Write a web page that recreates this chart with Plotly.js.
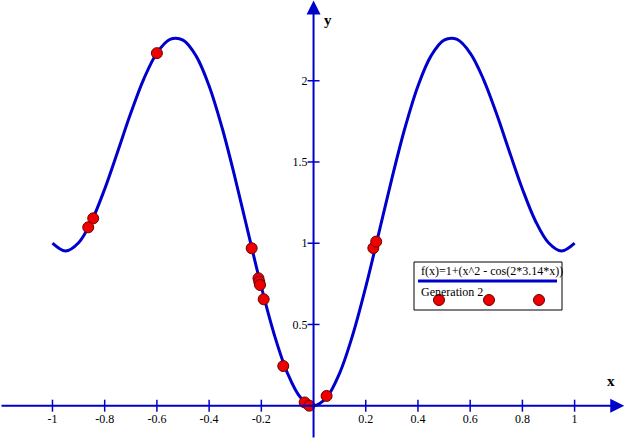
<!DOCTYPE html>
<html>
<head>
<meta charset="utf-8">
<script src="https://cdn.plot.ly/plotly-3.0.1.min.js"></script>
<style>html,body{margin:0;padding:0;background:#fff;}#chart{width:625px;height:439px;}</style>
</head>
<body>
<div id="chart"></div>
<script>
// Curve f(x)=1+(x^2 - cos(2*3.14*x))
const curveX = [-1,-0.95,-0.9,-0.85,-0.8,-0.75,-0.7,-0.65,-0.6,-0.55,-0.5,-0.45,-0.4,-0.35,-0.3,-0.25,-0.2,-0.15,-0.1,-0.05,0,
                0.05,0.1,0.15,0.2,0.25,0.3,0.35,0.4,0.45,0.5,0.55,0.6,0.65,0.7,0.75,0.8,0.85,0.9,0.95,1];
const curveY = [1.0,0.952,1.003,1.137,1.334,1.565,1.801,2.012,2.170,2.254,2.25,2.153,1.968,1.709,1.398,1.062,0.731,0.435,0.201,0.051,0,
                0.051,0.201,0.435,0.731,1.062,1.398,1.709,1.968,2.153,2.25,2.254,2.170,2.012,1.801,1.565,1.334,1.137,1.003,0.952,1.0];
// Generation 2 points
const genX = [-0.6,-0.844,-0.863,-0.237,-0.211,-0.208,-0.205,-0.191,-0.116,-0.034,-0.016,0.05,0.229,0.24];
const genY = [2.17,1.153,1.098,0.969,0.784,0.763,0.743,0.655,0.244,0.02,0.0,0.06,0.97,1.01];
// Tick labels
const xTicks = [-1,-0.8,-0.6,-0.4,-0.2,0.2,0.4,0.6,0.8,1];
const xTickText = ['-1','-0.8','-0.6','-0.4','-0.2','0.2','0.4','0.6','0.8','1'];
const yTicks = [0.5,1,1.5,2];
const yTickText = ['0.5','1','1.5','2'];
const curveName = 'f(x)=1+(x^2 - cos(2*3.14*x))';
const pointsName = 'Generation 2';

const W = 625, H = 439;
const xmin = -1.201, xmax = 1.193, ymin = -0.205, ymax = 2.497;
const blue = '#0000cc', red = '#ee0000';
const serif = 'Liberation Serif, Times New Roman, serif';
const px = v => v / W, py = v => 1 - v / H;

const traces = [
  {x: curveX, y: curveY, mode: 'lines', line: {color: blue, width: 3, shape: 'spline', smoothing: 1}, name: curveName, hoverinfo: 'skip'},
  {x: genX, y: genY, mode: 'markers', marker: {color: red, size: 11, line: {color: '#6a0000', width: 1}}, name: pointsName}
];

const shapes = [];
xTicks.forEach(v => shapes.push({type: 'line', xref: 'x', yref: 'y', ysizemode: 'pixel', yanchor: 0, x0: v, x1: v, y0: -6, y1: 6, line: {color: blue, width: 1.5}}));
yTicks.forEach(v => shapes.push({type: 'line', xref: 'x', yref: 'y', xsizemode: 'pixel', xanchor: 0, y0: v, y1: v, x0: -6, x1: 6, line: {color: blue, width: 1.5}}));
// legend box
shapes.push({type: 'rect', xref: 'paper', yref: 'paper', x0: px(414), x1: px(562), y0: py(310), y1: py(262), line: {color: '#000', width: 1}, fillcolor: '#fff'});
shapes.push({type: 'line', xref: 'paper', yref: 'paper', x0: px(418), x1: px(557), y0: py(281), y1: py(281), line: {color: blue, width: 3}});
[439, 489, 539].forEach(c => shapes.push({type: 'circle', xref: 'paper', yref: 'paper', x0: px(c - 5.5), x1: px(c + 5.5), y0: py(300 + 5.5), y1: py(300 - 5.5), fillcolor: red, line: {color: '#6a0000', width: 1}}));

const annotations = [
  {x: 1.19, y: 0, ax: xmin, ay: 0, xref: 'x', yref: 'y', axref: 'x', ayref: 'y', text: '', showarrow: true, arrowhead: 2, arrowsize: 1.4, arrowwidth: 2, arrowcolor: blue, standoff: 0, startstandoff: 0},
  {x: 0, y: 2.494, ax: 0, ay: ymin, xref: 'x', yref: 'y', axref: 'x', ayref: 'y', text: '', showarrow: true, arrowhead: 2, arrowsize: 1.4, arrowwidth: 2, arrowcolor: blue, standoff: 0, startstandoff: 0},
  {x: px(617), y: py(391), xref: 'paper', yref: 'paper', text: '<b>x</b>', showarrow: false, font: {family: serif, size: 15, color: '#000'}},
  {x: px(328), y: py(10), xref: 'paper', yref: 'paper', text: '<b>y</b>', showarrow: false, font: {family: serif, size: 15, color: '#000'}},
  {x: px(419), y: py(271), xref: 'paper', yref: 'paper', xanchor: 'left', text: curveName, showarrow: false, font: {family: serif, size: 12, color: '#000'}},
  {x: px(419), y: py(292), xref: 'paper', yref: 'paper', xanchor: 'left', text: pointsName, showarrow: false, font: {family: serif, size: 12, color: '#000'}}
];

const layout = {
  width: W, height: H,
  margin: {l: 0, r: 0, t: 0, b: 0, pad: 0},
  paper_bgcolor: '#fff', plot_bgcolor: '#fff',
  showlegend: false,
  font: {family: serif, size: 12, color: '#000'},
  xaxis: {range: [xmin, xmax], showgrid: false, zeroline: false, showline: false, ticks: '',
          tickvals: xTicks, ticktext: xTickText, anchor: 'free', position: (0 - ymin) / (ymax - ymin),
          ticklabelstandoff: 4, tickfont: {family: serif, size: 12, color: '#000'}},
  yaxis: {range: [ymin, ymax], showgrid: false, zeroline: false, showline: false, ticks: '',
          tickvals: yTicks, ticktext: yTickText, anchor: 'free', position: (0 - xmin) / (xmax - xmin),
          ticklabelstandoff: 6, tickfont: {family: serif, size: 12, color: '#000'}},
  shapes: shapes,
  annotations: annotations
};

Plotly.newPlot('chart', traces, layout, {displayModeBar: false, staticPlot: true});
</script>
</body>
</html>
